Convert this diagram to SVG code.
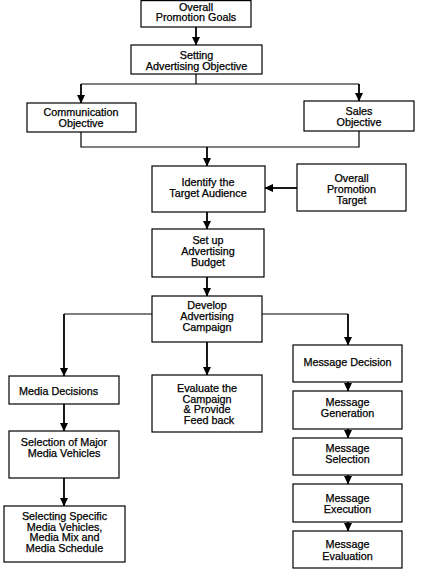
<svg xmlns="http://www.w3.org/2000/svg" width="421" height="576" viewBox="0 0 421 576">
<style>
.box{fill:#fff;stroke:#000;stroke-width:1.2}
.t{font-family:"Liberation Sans",Arial,sans-serif;font-size:10.8px;fill:#000;text-anchor:middle;stroke:#000;stroke-width:0.25}
.ln{fill:none;stroke:#000;stroke-width:1.2}
.ar{fill:none;stroke:#000;stroke-width:1.8;marker-end:url(#ah)}
</style>
<defs>
<marker id="ah" markerUnits="userSpaceOnUse" markerWidth="9" markerHeight="9" viewBox="0 0 9 9" refX="8" refY="4.5" orient="auto">
<path d="M0,0.5 L8.5,4.5 L0,8.5 Z" fill="#000"/>
</marker>
</defs>
<rect width="421" height="576" fill="#fff"/>
<g id="connectors">
<path class="ar" d="M196,27 V45"/>
<path class="ln" d="M196,74 V84 M81,84 H359"/>
<path class="ar" d="M81,84 V103"/>
<path class="ar" d="M359,84 V101"/>
<path class="ln" d="M81,132 V147 H359 V131"/>
<path class="ar" d="M207,147 V166"/>
<path class="ar" d="M297,188 H265"/>
<path class="ar" d="M207,212 V229"/>
<path class="ar" d="M207,277 V296"/>
<path class="ln" d="M152,314 H64 M262,314 H348"/>
<path class="ar" d="M64,314 V376"/>
<path class="ar" d="M207,342 V375"/>
<path class="ar" d="M348,314 V345"/>
<path class="ar" d="M348,382 V391"/>
<path class="ar" d="M348,429 V438"/>
<path class="ar" d="M348,475 V484"/>
<path class="ar" d="M348,522 V531"/>
<path class="ar" d="M64,404 V431"/>
<path class="ar" d="M64,478 V506"/>
</g>
<g id="goals"><rect class="box" x="141" y="0.6" width="110" height="26.4"/><text class="t" x="196" y="10.5">Overall</text><text class="t" x="196" y="21">Promotion Goals</text></g>
<g id="setting"><rect class="box" x="131" y="45" width="131" height="29"/><text class="t" x="196.5" y="59">Setting</text><text class="t" x="196.5" y="69.5">Advertising Objective</text></g>
<g id="communication"><rect class="box" x="27" y="103" width="109" height="29"/><text class="t" x="81" y="115.5">Communication</text><text class="t" x="81" y="126.5">Objective</text></g>
<g id="sales"><rect class="box" x="304" y="101" width="110" height="30"/><text class="t" x="359" y="114.5">Sales</text><text class="t" x="359" y="125.5">Objective</text></g>
<g id="identify"><rect class="box" x="152" y="166" width="113" height="46"/><text class="t" x="208" y="186">Identify the</text><text class="t" x="208" y="197">Target Audience</text></g>
<g id="target"><rect class="box" x="297" y="164" width="109" height="47"/><text class="t" x="351.5" y="181.5">Overall</text><text class="t" x="351.5" y="192.5">Promotion</text><text class="t" x="351.5" y="204">Target</text></g>
<g id="budget"><rect class="box" x="152" y="229" width="112" height="48"/><text class="t" x="208" y="244">Set up</text><text class="t" x="208" y="255">Advertising</text><text class="t" x="208" y="266">Budget</text></g>
<g id="develop"><rect class="box" x="152" y="296" width="110" height="46"/><text class="t" x="207" y="309">Develop</text><text class="t" x="207" y="320">Advertising</text><text class="t" x="207" y="331">Campaign</text></g>
<g id="media-decisions"><rect class="box" x="9" y="376" width="110" height="28"/><text class="t" x="19" y="395" style="text-anchor:start">Media Decisions</text></g>
<g id="evaluate"><rect class="box" x="152" y="375" width="110" height="57"/><text class="t" x="207" y="391.5">Evaluate the</text><text class="t" x="207" y="402.5">Campaign</text><text class="t" x="207" y="413">&amp; Provide</text><text class="t" x="209" y="424">Feed back</text></g>
<g id="message-decision"><rect class="box" x="293" y="345" width="109" height="37"/><text class="t" x="347.5" y="366">Message Decision</text></g>
<g id="message-generation"><rect class="box" x="293" y="391" width="109" height="38"/><text class="t" x="347.5" y="406">Message</text><text class="t" x="347.5" y="417">Generation</text></g>
<g id="message-selection"><rect class="box" x="293" y="438" width="109" height="37"/><text class="t" x="347.5" y="451.5">Message</text><text class="t" x="347.5" y="463">Selection</text></g>
<g id="message-execution"><rect class="box" x="293" y="484" width="109" height="38"/><text class="t" x="347.5" y="501.5">Message</text><text class="t" x="347.5" y="512.5">Execution</text></g>
<g id="message-evaluation"><rect class="box" x="293" y="531" width="109" height="37"/><text class="t" x="347.5" y="548">Message</text><text class="t" x="347.5" y="559.5">Evaluation</text></g>
<g id="major-vehicles"><rect class="box" x="9" y="431" width="110" height="47"/><text class="t" x="64" y="446">Selection of Major</text><text class="t" x="64" y="457">Media Vehicles</text></g>
<g id="specific-vehicles"><rect class="box" x="4" y="506" width="121" height="56"/><text class="t" x="64.5" y="520">Selecting Specific</text><text class="t" x="64.5" y="530.5">Media Vehicles,</text><text class="t" x="64.5" y="541">Media Mix and</text><text class="t" x="64.5" y="552">Media Schedule</text></g>
</svg>
